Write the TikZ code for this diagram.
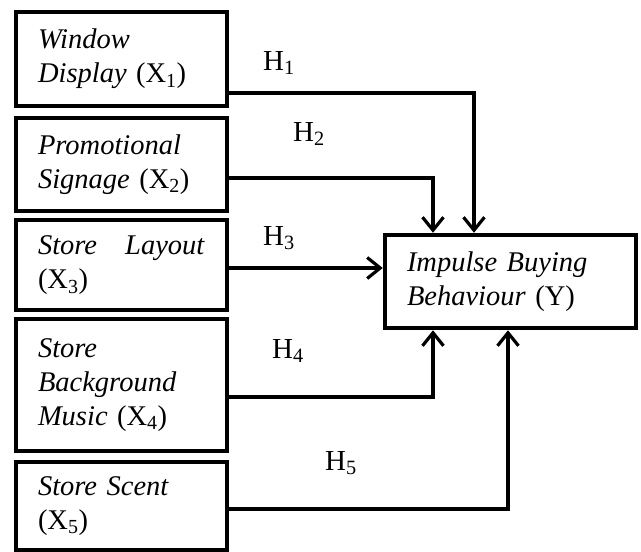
\documentclass[tikz,border=0pt]{standalone}
\usepackage{fontspec}
\setmainfont{Liberation Serif}
\usetikzlibrary{arrows.meta}
\begin{document}
\begin{tikzpicture}[x=1pt,y=-1pt,
  var/.style={draw,line width=4.5pt,rectangle,inner xsep=22pt,inner ysep=0pt,
    text width=#1,align=left,font=\fontsize{28.5}{34}\selectfont},
  conn/.style={line width=3.2pt,line join=miter},
  arr/.style={conn,-{Straight Barb[length=13pt,width=21pt,line width=3.2pt]}},
  hyp/.style={anchor=base west,inner sep=0pt,font=\fontsize{29}{34}\selectfont}]
\useasboundingbox (0,0) rectangle (641,552);
\node[var=167pt,minimum width=211pt,minimum height=94pt] (b1) at (121.5,59)
  {\textit{Window}\\\textit{Display} (X\textsubscript{1})};
\node[var=167pt,minimum width=211pt,minimum height=93pt] (b2) at (121.5,164.5)
  {\textit{Promotional}\\\textit{Signage} (X\textsubscript{2})};
\node[var=167pt,minimum width=211pt,minimum height=90pt] (b3) at (121.5,265)
  {\textit{Store}\hfill\textit{Layout}\\(X\textsubscript{3})};
\node[var=167pt,minimum width=211pt,minimum height=132pt] (b4) at (121.5,385)
  {\textit{Store}\\\textit{Background}\\\textit{Music} (X\textsubscript{4})};
\node[var=167pt,minimum width=211pt,minimum height=88pt] (b5) at (121.5,506)
  {\textit{Store Scent}\\(X\textsubscript{5})};
\node[var=207pt,minimum width=251pt,minimum height=93pt] (y) at (510.5,281.5)
  {\textit{Impulse Buying}\\\textit{Behaviour} (Y)};
\draw[arr] ([yshift=-34pt]b1.east) -| ([xshift=-36.5pt]y.north);
\draw[arr] ([yshift=-13.5pt]b2.east) -| ([xshift=-77.5pt]y.north);
\draw[arr] ([yshift=-3pt]b3.east) -- ([yshift=-3pt]b3.east -| y.west);
\draw[arr] ([yshift=-12pt]b4.east) -| ([xshift=-77.5pt]y.south);
\draw[arr] ([yshift=-3pt]b5.east) -| ([xshift=-2.5pt]y.south);
\node[hyp] (h1) at (263,70) {H\textsubscript{1}};
\node[hyp] (h2) at (293,141) {H\textsubscript{2}};
\node[hyp] (h3) at (263,245) {H\textsubscript{3}};
\node[hyp] (h4) at (272,358) {H\textsubscript{4}};
\node[hyp] (h5) at (325,470) {H\textsubscript{5}};
\end{tikzpicture}
\end{document}
